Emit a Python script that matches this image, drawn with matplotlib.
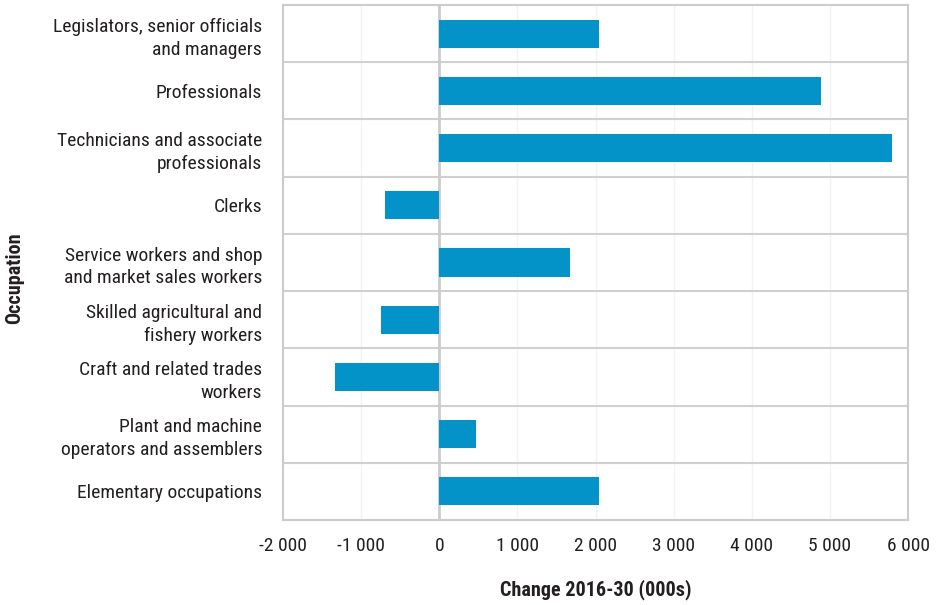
import matplotlib
matplotlib.use("Agg")
import matplotlib.pyplot as plt
from matplotlib.ticker import FuncFormatter

plt.rcParams['font.family'] = ['Liberation Sans Narrow', 'Roboto Condensed', 'DejaVu Sans']

categories = [
    "Legislators, senior officials\nand managers",
    "Professionals",
    "Technicians and associate\nprofessionals",
    "Clerks",
    "Service workers and shop\nand market sales workers",
    "Skilled agricultural and\nfishery workers",
    "Craft and related trades\nworkers",
    "Plant and machine\noperators and assemblers",
    "Elementary occupations",
]
values = [2040, 4880, 5790, -690, 1670, -740, -1330, 470, 2050]
x_ticks = [-2000, -1000, 0, 1000, 2000, 3000, 4000, 5000, 6000]

text_color = '#231f20'
bar_color = '#0393C9'

fig = plt.figure(figsize=(9.44, 6.05), dpi=100)
ax = fig.add_axes([0.2998, 0.1405, 0.9619 - 0.2998, 0.9917 - 0.1405])

ypos = list(range(len(categories)))
ax.barh(ypos, values, height=0.49, color=bar_color, zorder=3)

ax.set_xlim(-2000, 6000)
ax.set_ylim(len(categories) - 0.5, -0.5)
ax.set_xticks(x_ticks)
ax.xaxis.set_major_formatter(FuncFormatter(lambda v, p: f"{int(v):,}".replace(",", " ")))
ax.set_yticks(ypos)
ax.set_yticklabels(categories)

# grid: horizontal boundaries between categories
for b in [i + 0.5 for i in range(len(categories) - 1)]:
    ax.axhline(b, color='#d0d0d0', lw=1.5, zorder=1)
for xt in x_ticks[1:-1]:
    if xt != 0:
        ax.axvline(xt, color='#f3f3f3', lw=1.0, zorder=0)
ax.axvline(0, color='#cccccc', lw=2.0, zorder=2)

for s in ax.spines.values():
    s.set_color('#cccccc')
    s.set_linewidth(1.5)

ax.tick_params(axis='both', length=0, labelsize=14, colors=text_color)
ax.tick_params(axis='x', pad=12)
ax.tick_params(axis='y', pad=15)
for lab in ax.get_yticklabels():
    lab.set_linespacing(1.35)

ax.set_xlabel("Change 2016-30 (000s)", fontsize=14.5, fontweight='bold', color=text_color, labelpad=18)
fig.text(15 / 944, 1 - 278 / 605, "Occupation", rotation=90, fontsize=14.5, fontweight='bold',
         color=text_color, ha='center', va='center')

fig.savefig("out.png", dpi=100)
